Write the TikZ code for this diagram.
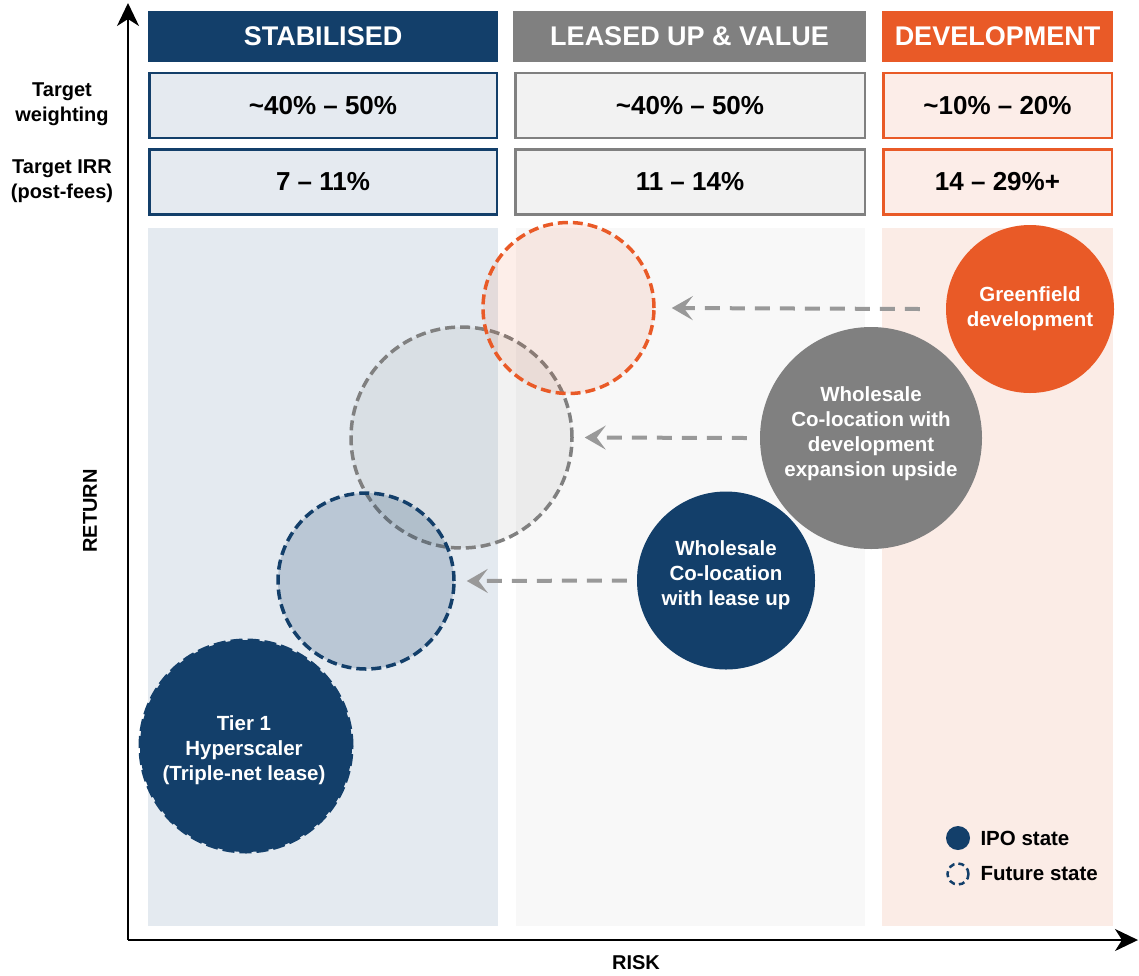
\documentclass[tikz,border=0pt]{standalone}
\usepackage{fontspec}
\setmainfont{Liberation Sans}
\usetikzlibrary{arrows.meta}
\definecolor{navy}{HTML}{133F6A}
\definecolor{orng}{HTML}{E95A27}
\definecolor{gry}{HTML}{808080}
\definecolor{argry}{HTML}{999999}
\definecolor{stabbg}{HTML}{E4EAF0}
\definecolor{leasebg}{HTML}{F8F8F8}
\definecolor{devbg}{HTML}{FBECE6}
\definecolor{stabrow}{HTML}{E5EAF0}
\definecolor{leaserow}{HTML}{F2F2F2}
\definecolor{devrow}{HTML}{FCEDE8}
\tikzset{
  hdr/.style={inner sep=0pt, minimum height=51pt, text=white, font=\bfseries\fontsize{27}{32}\selectfont},
  rowbox/.style={draw, line width=2.5pt, inner sep=0pt, minimum height=65pt, font=\bfseries\fontsize{26}{30}\selectfont},
  sidelbl/.style={align=center, font=\bfseries\fontsize{20}{25}\selectfont},
  bubble/.style={circle, inner sep=0pt},
  bubtxt/.style={align=center, text=white, inner sep=0pt, font=\bfseries\fontsize{20.5}{25}\selectfont},
  ghost/.style={circle, inner sep=0pt, line width=3.5pt, dash pattern=on 10pt off 5pt, fill opacity=0.1, draw opacity=1},
  moveline/.style={draw=argry, line width=4pt, dash pattern=on 15pt off 10pt, -{Stealth[length=21pt,width=24pt,inset=9pt]}},
  axis/.style={line width=2pt, -{Stealth[length=23pt,width=22pt,inset=7pt]}},
  axlbl/.style={font=\bfseries\fontsize{20}{24}\selectfont},
  legtxt/.style={anchor=west, font=\bfseries\fontsize{20.5}{24}\selectfont}
}
\begin{document}
\begin{tikzpicture}[x=1pt,y=-1pt]
\useasboundingbox (0,0) rectangle (1139,975);
% column backgrounds
\fill[stabbg] (148,228) rectangle (498,926);
\fill[leasebg] (516,228) rectangle (865,926);
\fill[devbg] (882,228) rectangle (1113,926);
% headers
\node[hdr, fill=navy, minimum width=350pt] (h1) at (323,36.5) {STABILISED};
\node[hdr, fill=gry, minimum width=353pt] (h2) at (689.5,36.5) {LEASED UP \& VALUE};
\node[hdr, fill=orng, minimum width=231pt] (h3) at (997.5,36.5) {DEVELOPMENT};
% rows
\node[rowbox, draw=navy, fill=stabrow, minimum width=347.5pt] (w1) at (323,105.5) {\textasciitilde40\% – 50\%};
\node[rowbox, draw=gry, fill=leaserow, minimum width=349.5pt] (w2) at (690,105.5) {\textasciitilde40\% – 50\%};
\node[rowbox, draw=orng, fill=devrow, minimum width=228.5pt] (w3) at (997.5,105.5) {\textasciitilde10\% – 20\%};
\node[rowbox, draw=navy, fill=stabrow, minimum width=347.5pt] (r1) at (323,182) {7 – 11\%};
\node[rowbox, draw=gry, fill=leaserow, minimum width=349.5pt] (r2) at (690,182) {11 – 14\%};
\node[rowbox, draw=orng, fill=devrow, minimum width=228.5pt] (r3) at (997.5,182) {14 – 29\%+};
% side labels
\node[sidelbl] (lw) at (62,104.5) {Target\\weighting};
\node[sidelbl] (li) at (62,181.5) {Target IRR\\(post-fees)};
% future-state circles
\node[ghost, draw=gry, fill=gry, minimum size=221pt] (fg) at (461.5,437.5) {};
\node[ghost, draw=orng, fill=orng, minimum size=171pt] (fo) at (568.5,308) {};
\node[ghost, draw=navy, fill=navy, fill opacity=0.2, minimum size=176pt] (fn) at (366,581) {};
% IPO circles
\node[bubble, fill=navy, draw=navy, line width=3pt, dash pattern=on 12pt off 5pt, minimum size=212pt] (t1) at (246,746) {};
\node[bubtxt] (t1t) at ([xshift=-2pt,yshift=-4pt]t1.center) {Tier 1\\Hyperscaler\\(Triple-net lease)};
\node[bubble, fill=orng, minimum size=168pt] (gf) at (1030,309) {};
\node[bubtxt] (gft) at (gf.center) {Greenfield\\development};
\node[bubble, fill=gry, minimum size=222pt] (wc) at (871,438) {};
\node[bubtxt] (wct) at ([yshift=4pt]wc.center) {Wholesale\\Co-location with\\development\\expansion upside};
\node[bubble, fill=navy, minimum size=178pt] (wl) at (726,580.5) {};
\node[bubtxt] (wlt) at ([yshift=5pt]wl.center) {Wholesale\\Co-location\\with lease up};
% moves
\draw[moveline] ([xshift=-26pt]gf.west) -- ([xshift=16pt]fo.east);
\draw[moveline] ([xshift=-13pt]wc.west) -- ([xshift=11pt]fg.east);
\draw[moveline] ([xshift=-10pt]wl.west) -- ([xshift=11pt]fn.east);
% legend
\node[circle, fill=navy, inner sep=0pt, minimum size=24pt] (lg1) at (958,838) {};
\node[legtxt] (lg1t) at (977,838) {IPO state};
\node[circle, draw=navy, line width=2.5pt, dash pattern=on 6pt off 4pt, inner sep=0pt, minimum size=21pt] (lg2) at (958,874) {};
\node[legtxt] (lg2t) at (977,874) {Future state};
% axes
\coordinate (o) at (128,940);
\coordinate (ytop) at (128,3);
\coordinate (xend) at (1138,940);
\draw[axis] (o) -- (ytop);
\draw[axis] (o) -- (xend);
\node[axlbl, rotate=90] (ret) at (90,511) {RETURN};
\node[axlbl] (risk) at (636,963) {RISK};
\end{tikzpicture}
\end{document}
